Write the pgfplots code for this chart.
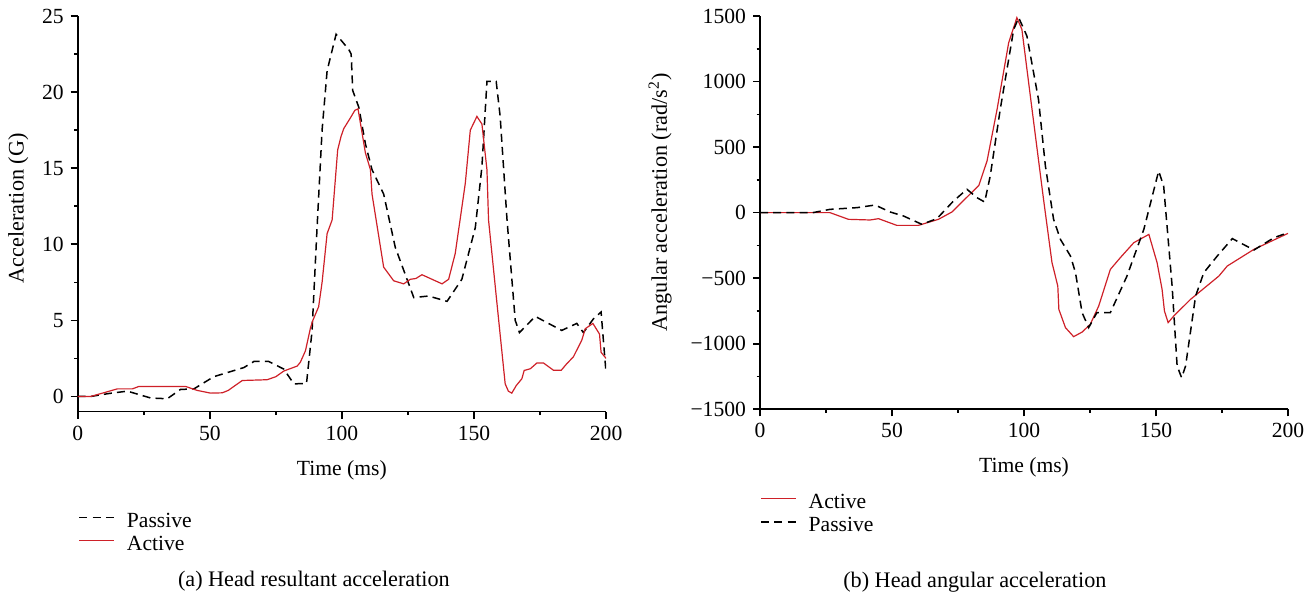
\documentclass[border=0pt]{standalone}
\usepackage{fontspec}
\setmainfont{Liberation Serif}
\usepackage{pgfplots}
\pgfplotsset{compat=1.18}
\definecolor{actred}{RGB}{206,32,40}
\newcommand{\fs}{\fontsize{10.8}{13}\selectfont}
\newcommand{\fl}{\fontsize{11.1}{13}\selectfont}
\pgfplotsset{
  myax/.style={
    scale only axis, axis lines*=left, anchor=south west, clip mode=individual,
    xmin=0, xmax=200, xtick={0,50,100,150,200}, minor x tick num=1,
    tick align=outside, major tick length=3.5pt, minor tick length=1.75pt,
    axis line style={line width=0.8pt},
    major tick style={line width=0.8pt, black},
    minor tick style={line width=0.8pt, black},
    tick label style={font=\fs}, label style={font=\fs},
    /pgf/number format/assume math mode=true,
    legend style={draw=none, fill=none, font=\fs, anchor=north west, inner sep=0pt, row sep=0pt, legend cell align=left,
      nodes={inner sep=0pt, text height=8pt, text depth=3.6pt}},
    legend image code/.code={\draw[##1] (0pt,2.8pt) -- (17.5pt,2.8pt); \path (23.4pt,2.8pt);},
    xlabel={Time (ms)},
    xlabel style={at={(axis description cs:0.5,-0.147)}, anchor=center},
  },
  pas/.style={black, line width=0.75pt, dash pattern=on 4pt off 2.6pt},
  act/.style={actred, line width=0.6pt},
}
\begin{document}
\begin{tikzpicture}
\useasboundingbox (0,0) rectangle (658pt,298.5pt);
\begin{axis}[myax, at={(38.85pt,92.65pt)}, width=264.2pt, height=197.85pt,
  ymin=-1, ymax=25, ytick={0,5,10,15,20,25}, minor y tick num=1,
  ylabel={Acceleration (G)},
  ylabel style={at={(axis description cs:-0.1124,0.514)}, anchor=center, font=\fl},
  legend style={at={(axis description cs:0.001,-0.2517)}},
]
\addplot[pas] coordinates {
(0,0) (4.9,0) (12,0.2) (18.8,0.35) (27.6,-0.1) (33.9,-0.15) (38.9,0.46) (44,0.5) (51.5,1.3) (62.9,1.9) (66.7,2.3) (72.3,2.3) (78,1.8) (81.8,0.83) (86.6,0.85) (88.7,4.3) (90.6,11.1) (92.5,17.5) (94.4,21.4) (97.8,23.8) (102.6,22.8) (103.5,22.5) (104.1,20.1) (106.4,19.0) (108.9,16.6) (111.4,14.9) (115.8,13.3) (120.2,9.8) (127.2,6.5) (132.8,6.6) (139.8,6.25) (145.4,7.7) (150.5,11.1) (153,15.1) (154.9,20.7) (158.4,20.7) (159.9,18.4) (162.5,11.6) (165.6,5.0) (167.2,4.2) (173.2,5.26) (183.2,4.34) (188.9,4.8) (191.4,4.2) (195.2,5.1) (198.1,5.55) (200,1.5)
};
\addlegendentry{Passive}
\addplot[act] coordinates {
(0,0) (4.9,0) (10,0.25) (15,0.5) (20.7,0.5) (23.2,0.66) (40.8,0.66) (45.2,0.4) (50.3,0.22) (54.7,0.24) (57,0.4) (59.1,0.66) (62.3,1.05) (71.7,1.1) (75,1.3) (78,1.67) (83.1,2.0) (84.3,2.26) (86.2,3.0) (88.1,4.5) (89,5.0) (91.2,5.9) (92.5,7.5) (94.4,10.7) (96.3,11.6) (98.4,16.2) (99.7,17.1) (100.7,17.6) (103.2,18.3) (104.9,18.8) (106.1,18.9) (108.9,16.0) (110.8,14.9) (111.4,13.3) (115.8,8.5) (119.6,7.6) (123.4,7.4) (125.9,7.7) (128,7.75) (130.3,8.0) (134.1,7.7) (137.9,7.4) (140.4,7.7) (142.9,9.4) (146.7,14.0) (148.6,17.5) (151.1,18.4) (153,17.9) (154.9,14.9) (155.5,11.6) (158.7,6.1) (161.8,0.83) (163,0.35) (164.3,0.22) (166,0.72) (168.1,1.16) (169,1.71) (171.3,1.82) (173.8,2.2) (176.3,2.2) (180.1,1.72) (183,1.72) (185.1,2.15) (187.6,2.6) (190.8,3.7) (192.1,4.45) (195,4.8) (197.5,4.1) (198.1,2.9) (200,2.5)
};
\addlegendentry{Active}
\node[font=\fl, anchor=base] at (axis description cs:0.447,-0.443) {(a) Head resultant acceleration};
\end{axis}
\begin{axis}[myax, at={(380pt,93.85pt)}, width=264pt, height=196.65pt,
  ymin=-1500, ymax=1500, ytick={-1500,-1000,-500,0,500,1000,1500}, minor y tick num=1,
  yticklabels={−1500,−1000,−500,0,500,1000,1500},
  ylabel={Angular acceleration (rad/s\textsuperscript{2})},
  ylabel style={at={(axis description cs:-0.189,0.526)}, anchor=center, font=\fl},
  legend style={at={(axis description cs:0,-0.211)}},
]
\addplot[act] coordinates {
(0,0) (26.5,0) (33.5,-51) (41.7,-56) (44.9,-46) (51.8,-97) (60,-97) (67.6,-51) (72.7,5) (82.9,208) (86,394) (89.8,788) (94.2,1297) (97.3,1487) (99.2,1398) (102.4,889) (107.4,101) (110.6,-381) (112.8,-560) (113.2,-738) (115.7,-877) (118.8,-946) (122,-911) (125.1,-852) (128.3,-712) (132.7,-433) (136.5,-343) (141.6,-229) (147.3,-166) (150.4,-381) (152.3,-585) (153.2,-751) (154.6,-839) (156.7,-789) (163.1,-661) (173.8,-484) (177,-407) (187.1,-280) (200,-158)
};
\addlegendentry{Active}
\addplot[pas] coordinates {
(0,0) (20,0) (26.5,25) (36.7,38) (43.6,58) (49.3,5) (54.4,-26) (61.3,-89) (67,-46) (73.3,89) (78.4,178) (82.2,114) (85.1,81) (87.2,279) (91,788) (96.1,1398) (98,1487) (101.1,1347) (105.5,862) (108.1,356) (111.2,-51) (113.8,-204) (117.6,-331) (119.5,-458) (122,-763) (124.5,-877) (127.6,-763) (132.7,-763) (139,-484) (145.4,-127) (151,317) (152.9,203) (156.1,-560) (158,-1170) (159.7,-1259) (161.2,-1170) (165,-636) (168.1,-458) (173.2,-331) (178.9,-198) (187.1,-285) (194.7,-191) (200,-153)
};
\addlegendentry{Passive}
\node[font=\fl, anchor=base] at (axis description cs:0.407,-0.452) {(b) Head angular acceleration};
\end{axis}
\end{tikzpicture}
\end{document}
